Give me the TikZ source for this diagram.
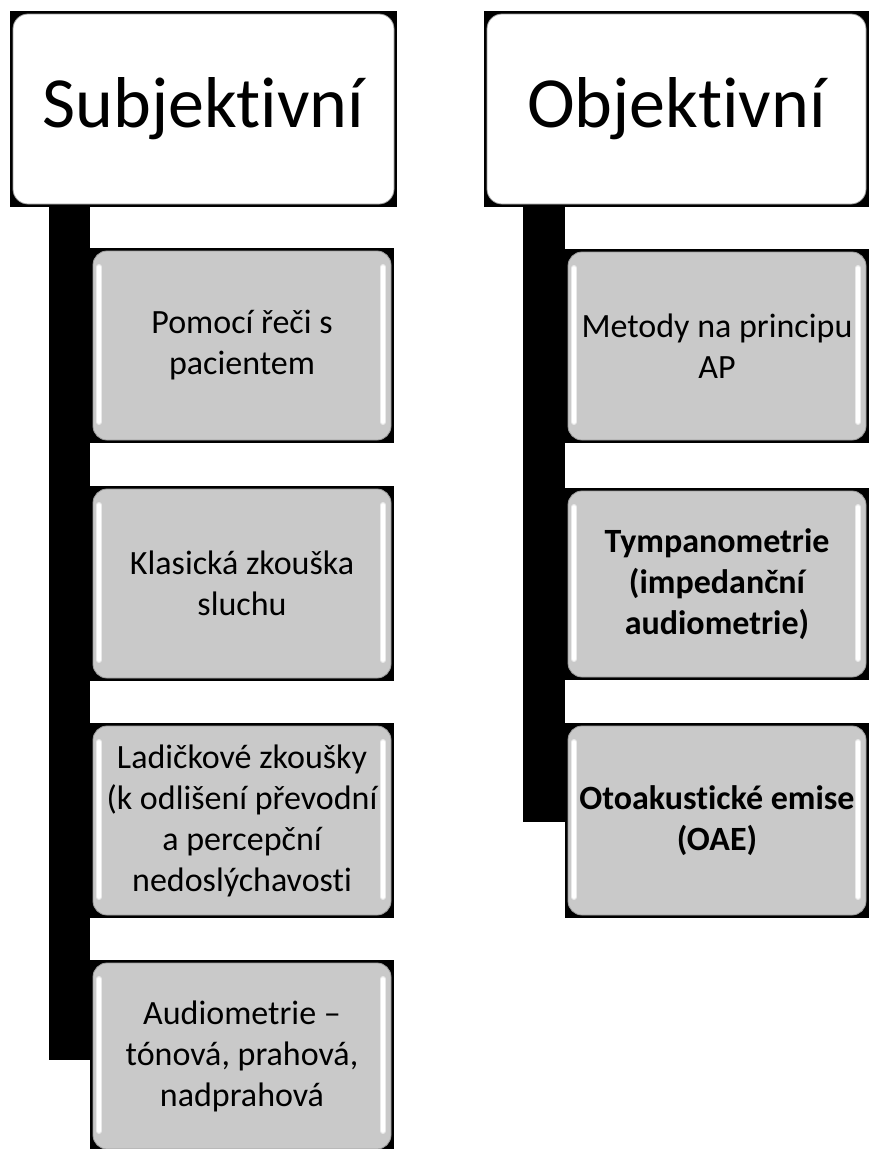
\documentclass[tikz,border=0pt]{standalone}
\usepackage{fontspec}
\setmainfont{Carlito}[Ligatures=NoCommon, RawFeature=-liga, RawFeature=-clig, RawFeature=-calt]
\definecolor{boxgray}{HTML}{C9C9C9}
\definecolor{rimgray}{HTML}{9C9C9C}
\tikzset{
  hdrbox/.style={fill=white, draw=rimgray, line width=0.8pt, rounded corners=15pt},
  grayshape/.style={fill=boxgray, draw=rimgray, line width=0.8pt, rounded corners=14pt},
  hl/.style={draw=white, line width=3.5pt, line cap=round},
  hlsoft/.style={draw=white!60!boxgray, line width=6pt, line cap=round},
  hdrtext/.style={inner sep=0pt, font=\fontsize{72}{80}\selectfont},
  itemtext/.style={inner sep=0pt, align=center, font=\fontsize{34}{41}\selectfont},
  bar/.style={fill=black}
}
\newcommand\grayitem[6]{%
  \fill[black] (#2,#3) rectangle (#4,#5);
  \path[grayshape] (#2+3,#3+3) rectangle (#4-3,#5-3);
  \draw[hlsoft] (#2+9,#3+19) -- (#2+9,#5-21);
  \draw[hlsoft] (#4-11,#3+19) -- (#4-11,#5-21);
  \draw[hl] (#2+9,#3+19) -- (#2+9,#5-21);
  \draw[hl] (#4-11,#3+19) -- (#4-11,#5-21);
  \node[itemtext] (#1) at ({(#2+#4)/2},{(#3+#5)/2}) {#6};
}
\begin{document}
\begin{tikzpicture}[x=1pt,y=-1pt]
\useasboundingbox (0,0) rectangle (872,1149);
\fill[white] (0,0) rectangle (872,1149);
% vertical bars
\fill[bar] (49,203) rectangle (90,1060);
\fill[bar] (523,203) rectangle (565,822);
% headers
\fill[black] (10,11) rectangle (397,207);
\path[hdrbox] (13,14) rectangle (394,204);
\node[hdrtext] (subj) at (203.5,109) {Subjektivní};
\fill[black] (484,11) rectangle (869,207);
\path[hdrbox] (487,14) rectangle (866,204);
\node[hdrtext] (obj) at (676.5,109) {Objektivní};
% left items
\grayitem{l1}{90}{248}{394}{443}{Pomocí řeči s\\pacientem}
\grayitem{l2}{90}{486}{394}{681}{Klasická zkouška\\sluchu}
\grayitem{l3}{90}{723}{394}{918}{Ladičkové zkoušky\\(k odlišení převodní\\a percepční\\nedoslýchavosti}
\grayitem{l4}{90}{960}{394}{1152}{Audiometrie –\\tónová, prahová,\\nadprahová}
% right items
\grayitem{r1}{565}{249}{869}{443}{Metody na principu\\AP}
\grayitem{r2}{565}{488}{869}{680}{\bfseries Tympanometrie\\\bfseries(impedanční\\\bfseries audiometrie)}
\grayitem{r3}{565}{723}{869}{918}{\bfseries Otoakustické emise\\\bfseries(OAE)}
\end{tikzpicture}
\end{document}
